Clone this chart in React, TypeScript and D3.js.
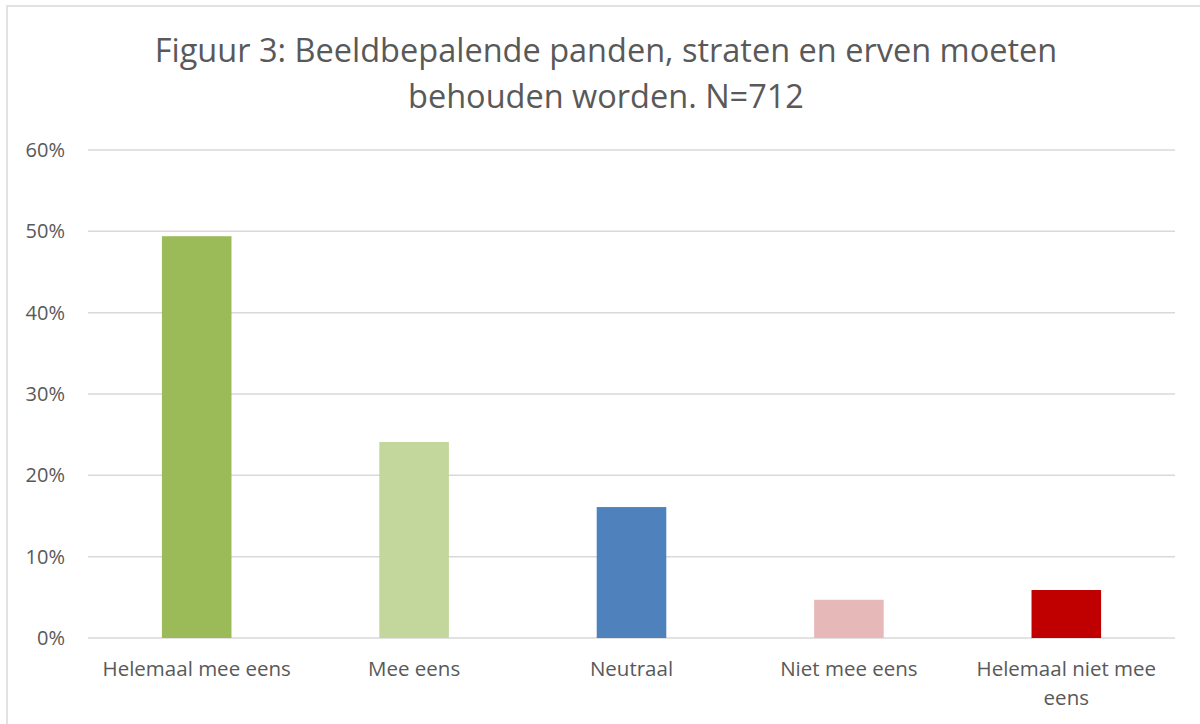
import React, { useEffect, useRef } from 'react'
import * as d3 from 'd3'

const categories = ['Helemaal mee eens', 'Mee eens', 'Neutraal', 'Niet mee eens', 'Helemaal niet mee eens']
const shares = [49.4, 24.1, 16.1, 4.7, 5.9]
const barColors = ['#9bbb59', '#c3d69b', '#4f81bd', '#e6b9b8', '#c00000']
const yTicks = [0, 10, 20, 30, 40, 50, 60]
const titleLines = ['Figuur 3: Beeldbepalende panden, straten en erven moeten', 'behouden worden. N=712']

const W = 1200
const H = 724
const FONT = '"Open Sans", Calibri, sans-serif'

export default function App() {
  const ref = useRef<SVGSVGElement>(null)

  useEffect(() => {
    document.body.style.margin = '0'
    const svg = d3.select(ref.current)
    svg.selectAll('*').remove()

    const left = 88, right = 1175, top = 150, bottom = 638

    svg.append('rect')
      .attr('x', 7).attr('y', 6)
      .attr('width', W).attr('height', H)
      .attr('fill', '#fff')
      .attr('stroke', '#d9d9d9').attr('stroke-width', 1.5)

    const x = d3.scaleBand().domain(categories).range([left, right]).paddingInner(0.68).paddingOuter(0.34)
    const y = d3.scaleLinear().domain([0, 60]).range([bottom, top])

    svg.append('g')
      .selectAll('line')
      .data(yTicks)
      .join('line')
      .attr('x1', left).attr('x2', right)
      .attr('y1', d => y(d)).attr('y2', d => y(d))
      .attr('stroke', '#d9d9d9').attr('stroke-width', 1.5)

    svg.append('g')
      .attr('font-family', FONT).attr('font-size', 20).attr('fill', '#595959')
      .attr('text-anchor', 'end')
      .selectAll('text')
      .data(yTicks)
      .join('text')
      .attr('x', 65).attr('y', d => y(d) + 7)
      .text(d => `${d}%`)

    svg.append('g')
      .selectAll('rect')
      .data(shares)
      .join('rect')
      .attr('x', (_, i) => x(categories[i])!)
      .attr('width', x.bandwidth())
      .attr('y', d => y(d))
      .attr('height', d => y(0) - y(d))
      .attr('fill', (_, i) => barColors[i])

    const labels = svg.append('g')
      .attr('font-family', FONT).attr('font-size', 20.5).attr('fill', '#595959')
      .attr('text-anchor', 'middle')
    categories.forEach(c => {
      const cx = x(c)! + x.bandwidth() / 2
      const lines = c === 'Helemaal niet mee eens' ? ['Helemaal niet mee', 'eens'] : [c]
      lines.forEach((l, j) => {
        labels.append('text').attr('x', cx).attr('y', 676 + j * 29).text(l)
      })
    })

    svg.append('g')
      .attr('font-family', FONT).attr('font-size', 32.5).attr('fill', '#595959')
      .attr('text-anchor', 'middle')
      .selectAll('text')
      .data(titleLines)
      .join('text')
      .attr('x', 606).attr('y', (_, i) => 62 + i * 46)
      .text(d => d)
  }, [])

  return (
    <div style={{ position: 'absolute', left: 0, top: 0 }}>
      <svg ref={ref} width={W} height={H} style={{ display: 'block' }} />
    </div>
  )
}
